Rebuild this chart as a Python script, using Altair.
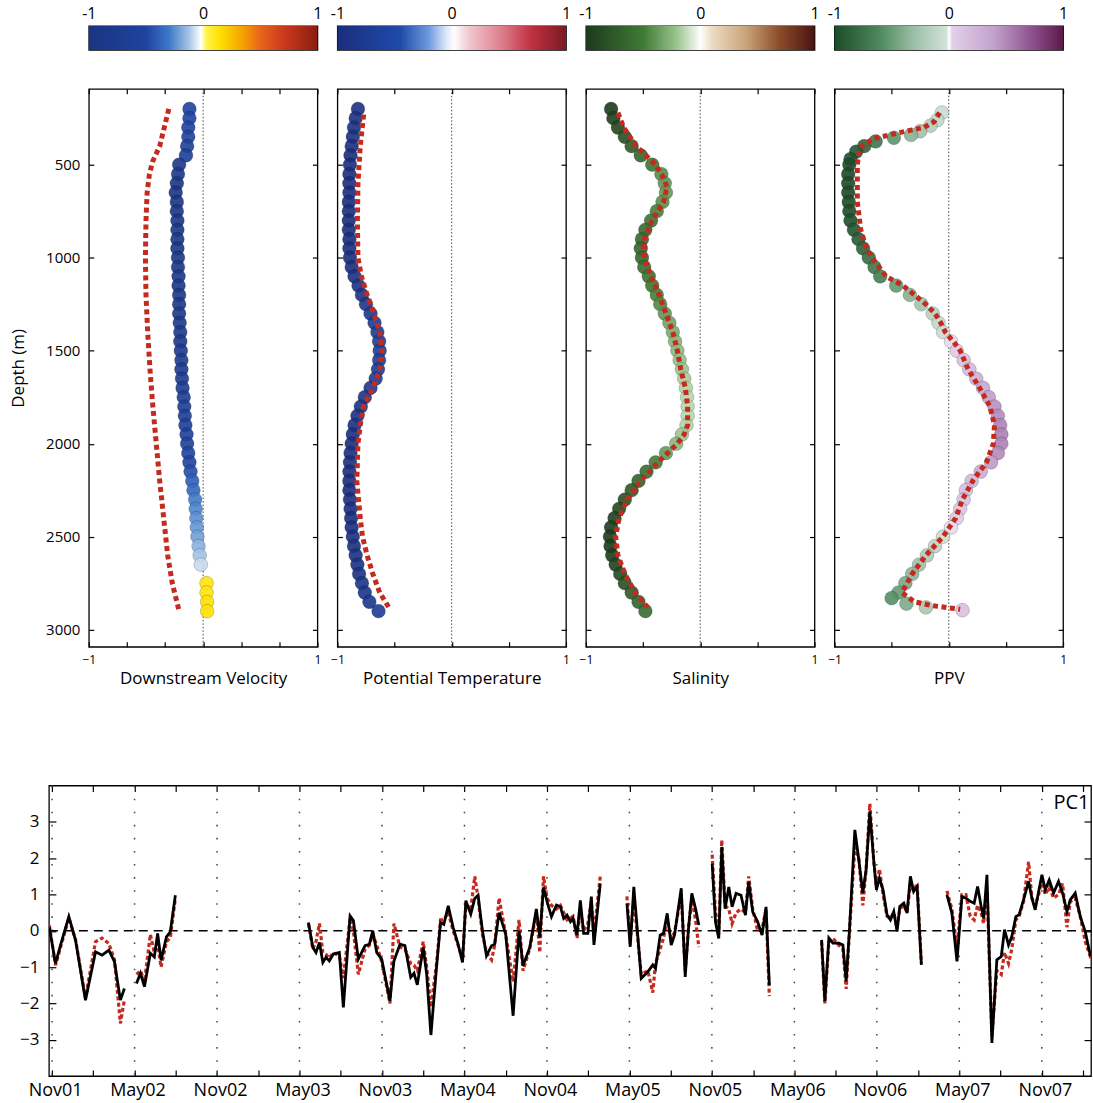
import json
import altair as alt
import pandas as pd

FONT = "Open Sans"
RED = "#c42a1e"

# ---------------- colour maps (stop position in [-1, 1] and colour) ----------------
VEL_STOPS = [-1, -0.5, -0.3, -0.12, -0.02, 0.03, 0.15, 0.35, 0.5, 0.7, 1]
VEL_COLORS = ["#1a3480", "#1f43a0", "#3d78c8", "#a8c6e8", "#ffffff", "#fff44a",
              "#ffe000", "#f5a000", "#e8651a", "#cc3a1c", "#8a1e12"]
TEMP_STOPS = [-1, -0.45, -0.2, -0.05, 0.02, 0.15, 0.45, 0.7, 1]
TEMP_COLORS = ["#1a2d7c", "#1f4aa8", "#6f9ae0", "#dbe6f8", "#ffffff", "#f0c8d0",
               "#dc7a88", "#c03040", "#7a1a22"]
SAL_STOPS = [-1, -0.5, -0.2, -0.03, 0, 0.1, 0.4, 0.7, 1]
SAL_COLORS = ["#1c3a1c", "#3f7a35", "#9cc690", "#eef5ea", "#ffffff", "#ecdcc4",
              "#c9a47a", "#8a4a2a", "#4a1410"]
PPV_STOPS = [-1, -0.6, -0.3, -0.02, 0, 0.03, 0.4, 0.75, 1]
PPV_COLORS = ["#1c4a28", "#4f8a5e", "#9dbfa8", "#d2e2d8", "#ffffff", "#e2d0ea",
              "#c2a0cc", "#8a4c8a", "#5a1a48"]

CB_RANGE = [-1, 1]
CB_TICKS = [-1, 0, 1]

# ---------------- vertical profiles ----------------
DEPTH_DOMAIN = [92, 3092]
DEPTH_TICKS = [500, 1000, 1500, 2000, 2500, 3000]

VEL_DEPTH = [200, 250, 300, 350, 400, 450, 500, 550, 600, 650, 700, 750, 800, 850, 900, 950,
             1000, 1050, 1100, 1150, 1200, 1250, 1300, 1350, 1400, 1450, 1500, 1550, 1600, 1650,
             1700, 1750, 1800, 1850, 1900, 1950, 2000, 2050, 2100, 2150, 2200, 2250, 2300, 2350,
             2400, 2450, 2500, 2550, 2600, 2650, 2750, 2800, 2850, 2900]
VEL_VAL = [-0.12, -0.12, -0.13, -0.13, -0.14, -0.15, -0.21, -0.22, -0.23, -0.24, -0.23, -0.23,
           -0.225, -0.225, -0.225, -0.225, -0.22, -0.22, -0.215, -0.215, -0.21, -0.21, -0.21,
           -0.205, -0.2, -0.2, -0.195, -0.19, -0.19, -0.185, -0.18, -0.17, -0.165, -0.16, -0.155,
           -0.145, -0.14, -0.13, -0.12, -0.11, -0.095, -0.085, -0.07, -0.065, -0.06, -0.055,
           -0.05, -0.04, -0.03, -0.02, 0.03, 0.03, 0.035, 0.035]
VEL_RED_DEPTH = [200, 300, 400, 480, 550, 650, 800, 1000, 1200, 1400, 1600, 1800, 2000, 2200,
                 2400, 2600, 2750, 2900]
VEL_RED_VAL = [-0.30, -0.34, -0.38, -0.44, -0.47, -0.49, -0.50, -0.505, -0.50, -0.485, -0.465,
               -0.44, -0.41, -0.38, -0.345, -0.31, -0.27, -0.21]

TEMP_DEPTH = [200, 250, 300, 350, 400, 450, 500, 550, 600, 650, 700, 750, 800, 850, 900, 950,
              1000, 1050, 1100, 1150, 1200, 1250, 1300, 1350, 1400, 1450, 1500, 1550, 1600, 1650,
              1700, 1750, 1800, 1850, 1900, 1950, 2000, 2050, 2100, 2150, 2200, 2250, 2300, 2350,
              2400, 2450, 2500, 2550, 2600, 2650, 2700, 2750, 2800, 2850, 2900]
TEMP_VAL = [-0.82, -0.84, -0.855, -0.865, -0.875, -0.885, -0.89, -0.895, -0.895, -0.895,
            -0.9, -0.9, -0.9, -0.9, -0.895, -0.895, -0.89, -0.875, -0.85, -0.815,
            -0.785, -0.75, -0.71, -0.675, -0.65, -0.635, -0.63, -0.635, -0.645, -0.665,
            -0.71, -0.76, -0.795, -0.825, -0.85, -0.865, -0.875, -0.885, -0.89, -0.895,
            -0.895, -0.895, -0.89, -0.885, -0.88, -0.875, -0.865, -0.855, -0.84, -0.825,
            -0.81, -0.785, -0.76, -0.72, -0.64]
TEMP_RED_DEPTH = [230, 400, 600, 800, 1000, 1100, 1200, 1300, 1400, 1500, 1600, 1700, 1800,
                  1900, 2000, 2200, 2400, 2500, 2600, 2700, 2800, 2880]
TEMP_RED_VAL = [-0.77, -0.8, -0.82, -0.825, -0.82, -0.79, -0.74, -0.68, -0.63, -0.61, -0.63,
                -0.69, -0.77, -0.8, -0.82, -0.83, -0.8, -0.78, -0.74, -0.69, -0.63, -0.55]

SAL_DEPTH = TEMP_DEPTH
SAL_VAL = [-0.78, -0.76, -0.72, -0.66, -0.6, -0.52, -0.42, -0.34, -0.31, -0.3,
           -0.33, -0.38, -0.43, -0.48, -0.51, -0.52, -0.51, -0.49, -0.45, -0.42,
           -0.38, -0.35, -0.31, -0.27, -0.24, -0.22, -0.2, -0.18, -0.16, -0.14,
           -0.125, -0.115, -0.11, -0.11, -0.12, -0.16, -0.21, -0.3, -0.39, -0.47,
           -0.54, -0.6, -0.66, -0.71, -0.75, -0.78, -0.79, -0.785, -0.77, -0.74,
           -0.7, -0.66, -0.6, -0.54, -0.48]
SAL_RED_DEPTH = [220, 300, 400, 500, 560, 620, 700, 800, 900, 1000, 1100, 1200, 1300, 1400,
                 1500, 1600, 1700, 1800, 1900, 1950, 2000, 2100, 2200, 2300, 2400, 2500, 2600,
                 2700, 2800, 2880]
SAL_RED_VAL = [-0.72, -0.67, -0.56, -0.39, -0.33, -0.29, -0.32, -0.42, -0.49, -0.49, -0.43,
               -0.36, -0.3, -0.24, -0.2, -0.17, -0.13, -0.11, -0.11, -0.14, -0.2, -0.37, -0.52,
               -0.64, -0.71, -0.74, -0.72, -0.66, -0.57, -0.46]

PPV_DEPTH = [220, 260, 290, 320, 340, 355, 375, 400, 430, 470, 500, 550, 600, 650, 700, 750,
             800, 850, 900, 950, 1000, 1050, 1100, 1150, 1200, 1250, 1300, 1350, 1400, 1450,
             1500, 1550, 1600, 1650, 1700, 1750, 1800, 1850, 1900, 1950, 2000, 2050, 2100,
             2150, 2200, 2250, 2300, 2350, 2400, 2450, 2500, 2550, 2600, 2650, 2700, 2750,
             2800, 2830, 2860, 2880, 2895]
PPV_VAL = [-0.06, -0.1, -0.16, -0.25, -0.33, -0.48, -0.64, -0.74, -0.81, -0.86,
           -0.87, -0.88, -0.88, -0.88, -0.875, -0.87, -0.86, -0.83, -0.79, -0.75,
           -0.7, -0.65, -0.6, -0.46, -0.34, -0.24, -0.14, -0.09, -0.05, 0.02,
           0.07, 0.13, 0.18, 0.24, 0.3, 0.35, 0.4, 0.43, 0.45, 0.46,
           0.46, 0.43, 0.37, 0.28, 0.2, 0.15, 0.13, 0.1, 0.07, 0.02,
           -0.05, -0.12, -0.19, -0.26, -0.32, -0.38, -0.44, -0.5, -0.37, -0.2, 0.12]
PPV_RED_DEPTH = [220, 270, 300, 330, 360, 400, 450, 500, 700, 850, 950, 1000, 1100, 1150, 1200,
                 1250, 1300, 1350, 1400, 1450, 1500, 1600, 1700, 1800, 1900, 2000, 2100, 2200,
                 2300, 2400, 2500, 2600, 2700, 2800, 2850, 2870, 2890]
PPV_RED_VAL = [-0.08, -0.13, -0.22, -0.45, -0.66, -0.76, -0.79, -0.8, -0.8, -0.77, -0.72, -0.67,
               -0.55, -0.4, -0.3, -0.2, -0.12, -0.07, -0.03, 0.04, 0.1, 0.17, 0.27, 0.36, 0.4,
               0.39, 0.33, 0.21, 0.12, 0.06, -0.05, -0.2, -0.32, -0.41, -0.3, -0.15, 0.1]

P1_XTICKS = [-1, -0.667, -0.333, 0, 0.333, 0.667, 1]
PX_XTICKS = [-1, -0.5, 0, 0.5, 1]
PANEL_TITLES = ["Downstream Velocity", "Potential Temperature", "Salinity", "PPV"]

# ---------------- PC1 time series (months after 1 Nov 2001) ----------------
SEG1_MONTH = [-0.2, 0.25, 0.62, 1.22, 1.71, 2.43, 3.16, 3.64, 4.13, 4.54, 4.97, 5.26]
SEG1_PC = [0.1, -0.9, -0.39, 0.39, -0.26, -1.91, -0.58, -0.67, -0.53, -0.85, -1.91, -1.59]
SEG1_REC = [0.15, -0.95, -0.45, 0.35, -0.25, -1.85, -0.3, -0.2, -0.35, -0.8, -2.55, -1.9]

SEG2_MONTH = [6.14, 6.43, 6.72, 7.15, 7.44, 7.68, 7.93, 8.32, 8.6, 8.97]
SEG2_PC = [-1.45, -1.17, -1.54, -0.62, -0.72, -0.07, -0.81, -0.17, -0.03, 0.98]
SEG2_REC = [-1.2, -1.1, -1.4, -0.1, -0.6, -0.35, -1.0, -0.3, -0.2, 0.9]

SEG3_MONTH = [18.65, 18.97, 19.2, 19.45, 19.7, 19.93, 20.17, 20.46, 20.9, 21.19, 21.68, 21.92,
              22.28, 22.77, 23.08, 23.33, 23.62, 23.98, 24.58, 24.87, 25.31, 25.67, 26.09,
              26.33, 26.57, 27.0, 27.25, 27.56, 27.97, 28.26, 28.5, 28.82, 29.18, 29.54, 29.86,
              30.1, 30.46, 30.75, 30.99, 31.31, 31.6, 31.97, 32.2, 32.52, 33.0, 33.54, 33.97,
              34.26, 34.75, 35.23, 35.48, 35.75, 36.01, 36.33, 36.69, 36.98, 37.22, 37.46,
              37.71, 37.9, 38.19, 38.43, 38.67, 38.98, 39.23, 39.42, 39.88]
SEG3_PC = [0.23, -0.46, -0.6, -0.32, -0.87, -0.73, -0.83, -0.64, -0.6, -2.11, 0.41, 0.28,
           -0.78, -0.41, -0.37, 0.0, -0.6, -0.78, -1.93, -0.83, -0.37, -0.41, -1.28, -1.17,
           -1.49, -0.46, -1.19, -2.87, -1.0, 0.23, 0.18, 0.69, 0.09, -0.37, -0.87, 0.83, 0.46,
           0.89, 0.98, 0.0, -0.69, -0.41, -0.37, 0.5, -0.09, -2.34, 0.0, -0.96, -0.46, 0.6,
           -0.18, 1.2, 0.8, 0.39, 0.71, 0.66, 0.34, 0.43, 0.25, 0.34, -0.12, 0.84, -0.07,
           -0.07, 0.94, -0.39, 1.3]
SEG3_REC = [0.2, -0.5, -0.3, 0.2, -0.6, -0.65, -0.75, -0.6, -0.7, -1.3, 0.35, 0.0, -1.2,
            -0.5, -0.4, -0.1, -0.4, -0.85, -2.0, 0.2, -0.45, -0.5, -0.9, -0.95, -1.1, -0.3,
            -1.0, -2.1, -0.9, 0.3, 0.3, 0.5, 0.0, -0.4, -0.8, 0.7, 0.6, 1.5, 0.9, -0.1, -0.6,
            -0.8, -0.4, 0.9, -0.1, -1.4, 0.3, -1.1, -0.5, 0.5, -0.6, 1.5, 0.9, 0.7, 0.6, 0.7,
            0.5, 0.3, 0.35, 0.4, -0.2, 0.6, 0.0, 0.2, 0.8, -0.1, 1.5]

SEG4_MONTH = [41.82, 42.06, 42.32, 42.86, 43.34, 43.7, 43.9, 44.24, 44.48, 44.75, 45.04,
              45.28, 45.77, 46.06, 46.3, 46.54, 46.81, 47.05]
SEG4_PC = [0.75, -0.44, 1.21, -1.31, -1.13, -0.94, -1.04, -0.12, -0.07, 0.48, -0.39, -0.12,
           1.17, -1.27, 0.06, 1.03, 0.61, 0.16]
SEG4_REC = [0.95, -0.3, 0.9, -1.2, -1.1, -1.7, -0.9, -0.5, -0.2, 0.3, -0.2, -0.05, 1.0, -1.1,
            0.1, 0.9, 0.3, -0.45]

SEG5_MONTH = [48.02, 48.26, 48.5, 48.72, 48.96, 49.23, 49.47, 49.76, 50.12, 50.44, 50.68,
              50.97, 51.33, 51.65, 51.94, 52.18]
SEG5_PC = [1.85, 0.25, -0.21, 2.31, 0.61, 1.21, 0.66, 1.03, 0.98, 0.43, 1.35, 0.52, 0.25,
           -0.12, 0.66, -1.5]
SEG5_REC = [2.1, 0.5, -0.1, 2.5, 0.7, 0.6, 0.2, 0.5, 0.6, 0.5, 1.5, 0.6, 0.0, 0.05, 0.6, -1.8]

SEG6_MONTH = [55.98, 56.22, 56.51, 56.8, 57.24, 57.53, 57.77, 58.01, 58.4, 58.69, 58.98,
              59.22, 59.49, 59.78, 59.97, 60.19, 60.45, 60.74, 60.99, 61.23, 61.47, 61.67,
              61.96, 62.2, 62.44, 62.68, 62.93, 63.24]
SEG6_PC = [-0.25, -1.94, -0.2, -0.34, -0.34, -0.39, -1.39, 0.03, 2.78, 1.95, 1.04, 1.68,
           3.28, 1.91, 1.13, 1.45, 1.13, 0.44, 0.3, 0.53, -0.02, 0.67, 0.76, 0.49, 1.5, 1.08,
           1.22, -0.94]
SEG6_REC = [-0.3, -2.0, -0.3, -0.2, -0.4, -0.5, -1.6, 0.0, 2.3, 2.0, 0.7, 1.7, 3.5, 1.9,
            1.2, 1.7, 1.0, 0.4, 0.35, 0.5, 0.1, 0.6, 0.7, 0.5, 1.3, 1.1, 1.3, -0.9]

SEG7_MONTH = [65.1, 65.46, 65.83, 66.19, 66.48, 66.79, 67.08, 67.33, 67.59, 67.77, 68.01,
              68.37, 68.73, 69.05, 69.29, 69.58, 69.82, 70.11, 70.35, 70.67, 71.04, 71.28,
              71.52, 71.77, 72.01, 72.25, 72.54, 72.86, 73.22, 73.51, 73.83, 74.07, 74.43,
              74.8, 75.16, 75.52, 75.9]
SEG7_PC = [0.99, 0.49, -0.84, 0.94, 0.9, 0.81, 0.76, 1.22, 0.67, 0.35, 1.54, -3.09, -0.8,
           -0.71, 0.03, -0.39, -0.16, 0.39, 0.44, 0.85, 1.36, 0.9, 0.58, 1.08, 1.54, 1.13, 1.4,
           1.04, 1.36, 1.04, 0.53, 0.85, 1.04, 0.39, -0.02, -0.66, -0.6]
SEG7_REC = [1.1, 0.6, -0.5, 1.0, 1.0, 0.4, 0.3, 0.7, 0.5, 0.2, 1.2, -2.9, -1.1, -1.2, -0.6,
            -0.9, -0.5, 0.3, 0.4, 0.8, 1.9, 0.9, 0.7, 1.0, 1.4, 1.0, 1.2, 0.9, 1.0, 1.3, 0.1,
            0.8, 0.9, 0.4, -0.3, -0.7, -0.6]

TS_LABELS = ["Nov01", "May02", "Nov02", "May03", "Nov03", "May04", "Nov04", "May05",
             "Nov05", "May06", "Nov06", "May07", "Nov07"]
TS_GRID = [0, 6, 12, 18, 24, 30, 36, 42, 48, 54, 60, 66, 72]
TS_TICKS = [0, 3, 6, 9, 12, 15, 18, 21, 24, 27, 30, 33, 36, 39, 42, 45, 48, 51, 54, 57, 60,
            63, 66, 69, 72, 75]
TS_YTICKS = [-3, -2, -1, 0, 1, 2, 3]
TS_DOMAIN = [-0.23, 75.58]
PC_LABEL = ("PC1", 72.85, 3.52)

# ---------------- layout sizes ----------------
PANEL_W, PANEL_H, CB_H = 229, 559, 24
TS_W, TS_H = 1044, 291
COL_GAP, ROW_GAP = 20, 36
TOP_LEAD, TS_LEAD = 68, 28          # invisible lead-in widths (panel x=88, series x=48)
PANEL_ROW_H = 659                   # panel row incl. room for its axis titles


def colorbar(stops, colors):
    grad = alt.Gradient(
        gradient="linear",
        stops=[alt.GradientStop(color=c, offset=(s + 1) / 2) for s, c in zip(stops, colors)],
        x1=0, x2=1, y1=0, y2=0,
    )
    df = pd.DataFrame({"lo": [CB_RANGE[0]], "hi": [CB_RANGE[1]]})
    return alt.Chart(df).mark_rect(color=grad).encode(
        x=alt.X("lo:Q", scale=alt.Scale(domain=CB_RANGE, nice=False, zero=False),
                axis=alt.Axis(orient="top", values=CB_TICKS, ticks=False, domain=False,
                              grid=False, labelFontSize=16, labelPadding=4, labelFlush=False,
                              labelExpr="datum.value < 0 ? '-' + abs(datum.value) : '' + datum.value",
                              title="")),
        x2="hi:Q",
    ).properties(width=PANEL_W, height=CB_H)


def profile(depth, val, rdepth, rval, stops, colors, xticks, title, first):
    assert len(depth) == len(val) and len(rdepth) == len(rval)
    amp = max(abs(v) for v in val)
    dots = pd.DataFrame({"d": depth, "v": val, "c": [v / amp for v in val]})
    red = pd.DataFrame({"d": rdepth, "v": rval})
    xs = alt.Scale(domain=[-1, 1], nice=False, zero=False)
    ys = alt.Scale(domain=DEPTH_DOMAIN, reverse=True, nice=False, zero=False)

    zero = alt.Chart(pd.DataFrame({"z": [0]})).mark_rule(
        color="#333333", strokeWidth=0.9, strokeDash=[1.5, 2]
    ).encode(x=alt.X("z:Q", scale=xs, axis=None))

    bx = alt.Axis(orient="bottom", values=xticks, tickSize=5, offset=-5, domain=False,
                  grid=False, labelFontSize=12, labelPadding=8, labelFlush=False,
                  labelOverlap=False,
                  labelExpr="datum.value == -1 ? '\u22121' : (datum.value == 1 ? '1' : '')",
                  title=title, titleFontSize=17, titlePadding=5)
    if first:
        ly = alt.Axis(orient="left", values=DEPTH_TICKS, format="d", tickSize=5, offset=-5,
                      domain=False, grid=False, labelFontSize=15, labelPadding=9,
                      title="Depth (m)", titleFontSize=17, titlePadding=18)
    else:
        ly = alt.Axis(orient="left", values=DEPTH_TICKS, tickSize=5, offset=-5, domain=False,
                      grid=False, labels=False, title="")
    tx = alt.Axis(orient="top", values=xticks, tickSize=5, offset=-5, domain=False,
                  grid=False, labels=False, title="")
    ry = alt.Axis(orient="right", values=DEPTH_TICKS, tickSize=5, offset=-5, domain=False,
                  grid=False, labels=False, title="")

    pts = alt.Chart(dots).mark_circle(
        size=190, opacity=0.9, stroke="black", strokeWidth=0.7, strokeOpacity=0.3
    ).encode(
        x=alt.X("v:Q", scale=xs, axis=bx),
        y=alt.Y("d:Q", scale=ys, axis=ly),
        color=alt.Color("c:Q", scale=alt.Scale(domain=stops, range=colors, interpolate="rgb"),
                        legend=None),
    )
    line = alt.Chart(red).mark_line(color=RED, strokeWidth=5, strokeDash=[5, 3.5]).encode(
        x=alt.X("v:Q", scale=xs, axis=tx),
        y=alt.Y("d:Q", scale=ys, axis=ry),
        order="d:Q",
    )
    return alt.layer(zero, pts, line).resolve_axis(
        x="independent", y="independent"
    ).properties(width=PANEL_W, height=PANEL_H)


def spacer(w, h):
    return alt.Chart(pd.DataFrame({"s": [0]})).mark_point(opacity=0).encode(
        x=alt.X("s:Q", axis=None), y=alt.Y("s:Q", axis=None)
    ).properties(width=w, height=h, view=alt.ViewBackground(stroke="transparent"))


# ---------------- top block ----------------
specs = [
    (VEL_DEPTH, VEL_VAL, VEL_RED_DEPTH, VEL_RED_VAL, VEL_STOPS, VEL_COLORS, P1_XTICKS),
    (TEMP_DEPTH, TEMP_VAL, TEMP_RED_DEPTH, TEMP_RED_VAL, TEMP_STOPS, TEMP_COLORS, PX_XTICKS),
    (SAL_DEPTH, SAL_VAL, SAL_RED_DEPTH, SAL_RED_VAL, SAL_STOPS, SAL_COLORS, PX_XTICKS),
    (PPV_DEPTH, PPV_VAL, PPV_RED_DEPTH, PPV_RED_VAL, PPV_STOPS, PPV_COLORS, PX_XTICKS),
]
cbars = [colorbar(s[4], s[5]) for s in specs]
panels = [profile(*s, PANEL_TITLES[i], i == 0) for i, s in enumerate(specs)]

cb_row = alt.hconcat(spacer(TOP_LEAD, CB_H), *cbars, spacing=COL_GAP, bounds="flush"
                     ).resolve_scale(x="independent")
panel_row = alt.hconcat(spacer(TOP_LEAD, PANEL_ROW_H), *panels, spacing=COL_GAP, bounds="flush"
                        ).resolve_scale(color="independent", x="independent", y="independent")

# ---------------- time series ----------------
SEGMENTS = [(SEG1_MONTH, SEG1_PC, SEG1_REC), (SEG2_MONTH, SEG2_PC, SEG2_REC),
            (SEG3_MONTH, SEG3_PC, SEG3_REC), (SEG4_MONTH, SEG4_PC, SEG4_REC),
            (SEG5_MONTH, SEG5_PC, SEG5_REC), (SEG6_MONTH, SEG6_PC, SEG6_REC),
            (SEG7_MONTH, SEG7_PC, SEG7_REC)]
rows = []
for sid, (mm, pc, rec) in enumerate(SEGMENTS, 1):
    assert len(mm) == len(pc) == len(rec), sid
    rows += [{"m": a, "pc": b, "rec": c, "seg": sid} for a, b, c in zip(mm, pc, rec)]
ts = pd.DataFrame(rows)

txs = alt.Scale(domain=TS_DOMAIN, nice=False, zero=False)
tys = alt.Scale(domain=[-4, 4], nice=False, zero=False)
label_expr = ("datum.value % 6 == 0 ? " + json.dumps(TS_LABELS) +
              "[datum.value / 6] : ''")

grid = alt.Chart(pd.DataFrame({"m": TS_GRID})).mark_rule(
    color="#444444", strokeWidth=1.5, strokeDash=[1.6, 11.5]
).encode(x=alt.X("m:Q", scale=txs, axis=None))
zero_ts = alt.Chart(pd.DataFrame({"z": [0]})).mark_rule(
    color="black", strokeWidth=1.5, strokeDash=[9, 6]
).encode(y=alt.Y("z:Q", scale=tys, axis=None))

red_ts = alt.Chart(ts).mark_line(color=RED, strokeWidth=3.2, strokeDash=[4, 2.5], clip=True).encode(
    x=alt.X("m:Q", scale=txs,
            axis=alt.Axis(orient="bottom", values=TS_TICKS, tickSize=6, offset=-6, domain=False,
                          grid=False, labelExpr=label_expr, labelFontSize=18, labelPadding=5,
                          labelOffset=3, labelFlush=False, labelOverlap=False, title="")),
    y=alt.Y("rec:Q", scale=tys,
            axis=alt.Axis(orient="left", values=TS_YTICKS, format="d", tickSize=7, offset=-7,
                          domain=False, grid=False, labelFontSize=17, labelPadding=10,
                          title="")),
    detail="seg:N",
    order="m:Q",
)
black_ts = alt.Chart(ts).mark_line(color="black", strokeWidth=2.8, clip=True).encode(
    x=alt.X("m:Q", scale=txs,
            axis=alt.Axis(orient="top", values=TS_TICKS, tickSize=6, offset=-6, domain=False,
                          grid=False, labels=False, title="")),
    y=alt.Y("pc:Q", scale=tys,
            axis=alt.Axis(orient="right", values=TS_YTICKS, tickSize=7, offset=-7,
                          domain=False, grid=False, labels=False, title="")),
    detail="seg:N",
    order="m:Q",
)
pc_text = alt.Chart(pd.DataFrame({"t": [PC_LABEL[0]], "m": [PC_LABEL[1]], "v": [PC_LABEL[2]]})).mark_text(
    align="left", baseline="middle", fontSize=20, font=FONT, color="black"
).encode(
    x=alt.X("m:Q", scale=txs, axis=None),
    y=alt.Y("v:Q", scale=tys, axis=None),
    text="t:N",
)

ts_chart = alt.layer(grid, zero_ts, red_ts, black_ts, pc_text).resolve_axis(
    x="independent", y="independent"
).properties(width=TS_W, height=TS_H)

ts_row = alt.hconcat(spacer(TS_LEAD, TS_H), ts_chart, spacing=COL_GAP, bounds="flush")

chart = alt.vconcat(cb_row, panel_row, ts_row, spacing=ROW_GAP).resolve_scale(
    color="independent", x="independent", y="independent"
).properties(
    padding={"left": 0, "top": 4, "right": 0, "bottom": 0}
).configure_view(
    stroke="black", strokeWidth=1.3
).configure_axis(
    labelFont=FONT, titleFont=FONT, labelColor="black", titleColor="black",
    tickColor="black", titleFontWeight="normal", tickWidth=1.2
)

chart.save("out.html", embed_options={"renderer": "svg", "actions": False})
